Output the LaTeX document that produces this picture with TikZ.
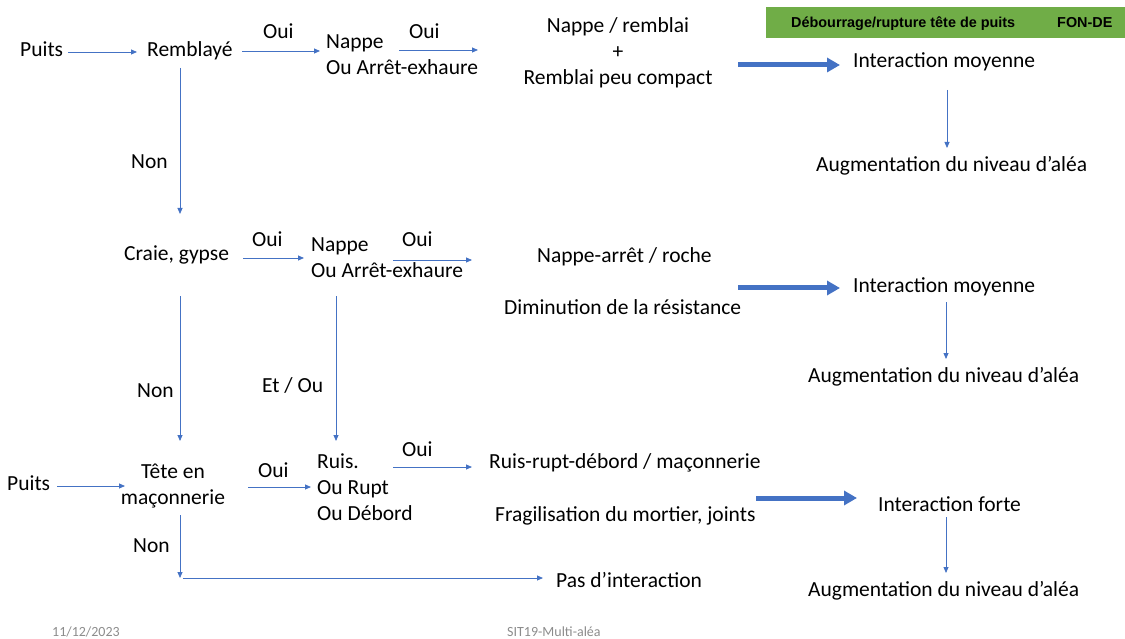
\documentclass[tikz,border=0pt]{standalone}
\usepackage{fontspec}
\setmainfont{Carlito}
\newfontfamily\barfont{Liberation Sans}
\usetikzlibrary{arrows.meta}
\definecolor{linkblue}{HTML}{4472C4}
\definecolor{bargreen}{HTML}{70AD47}
\definecolor{footgray}{HTML}{8C8C8C}
\begin{document}
\begin{tikzpicture}[x=1pt,y=-1pt,
  lbl/.style={inner sep=0pt, anchor=base west, font=\fontsize{21.5}{26}\selectfont},
  lblc/.style={lbl, anchor=base, align=center},
  lbll/.style={lbl, align=left},
  bartext/.style={inner sep=0pt, anchor=base west, font=\barfont\bfseries\fontsize{14.4}{16}\selectfont},
  foot/.style={inner sep=0pt, anchor=base west, text=footgray, font=\fontsize{14}{16}\selectfont},
  thinarrow/.style={draw=linkblue, line width=0.8pt, -{Triangle[length=6pt,width=5pt]}},
  boldarrow/.style={draw=linkblue, line width=5pt, -{Triangle[length=13pt,width=14pt]}},
]
\useasboundingbox (0,0) rectangle (1125,639);

% header bar
\fill[bargreen] (766,7) rectangle (1125,38);
\node[bartext] (bartitle) at (791,27.5) {Débourrage/rupture tête de puits};
\node[bartext] (barcode) at (1057,27.5) {FON-DE};

% first branch: filled shaft (multi-line nodes sit on their last baseline)
\node[lbl] (puitsA) at (20,57) {Puits};
\node[lbl] (remblaye) at (147,57) {Remblayé};
\node[lbl] (ouiA) at (263,39) {Oui};
\node[lbll] (nappeA) at (326,75) {Nappe\\Ou Arrêt-exhaure};
\node[lbl] (ouiB) at (409,39) {Oui};
\node[lblc] (resA) at (618,85) {Nappe / remblai\\+\\Remblai peu compact};
\node[lbl] (interA) at (853,68) {Interaction moyenne};
\node[lbl] (augA) at (816,172) {Augmentation du niveau d’aléa};
\node[lbl] (nonA) at (131,169) {Non};

% second branch: chalk, gypsum
\node[lbl] (craie) at (124,261) {Craie, gypse};
\node[lbl] (ouiC) at (252,247) {Oui};
\node[lbll] (nappeB) at (311,277) {Nappe\\Ou Arrêt-exhaure};
\node[lbl] (ouiD) at (402,247) {Oui};
\node[lbl] (resB1) at (537,262) {Nappe-arrêt / roche};
\node[lbl] (resB2) at (504,315) {Diminution de la résistance};
\node[lbl] (interB) at (853,292) {Interaction moyenne};
\node[lbl] (augB) at (808,382) {Augmentation du niveau d’aléa};
\node[lbl] (nonB) at (137,397) {Non};
\node[lbl] (etou) at (262,392) {Et / Ou};

% third branch: masonry head
\node[lbl] (puitsB) at (7,490) {Puits};
\node[lblc] (tete) at (173,504) {Tête en\\maçonnerie};
\node[lbl] (ouiE) at (258,477) {Oui};
\node[lbll] (ruis) at (317,520) {Ruis.\\Ou Rupt\\Ou Débord};
\node[lbl] (ouiF) at (402,456) {Oui};
\node[lbl] (resC1) at (489,468) {Ruis-rupt-débord / maçonnerie};
\node[lbl] (resC2) at (495,521) {Fragilisation du mortier, joints};
\node[lbl] (interC) at (878,511) {Interaction forte};
\node[lbl] (augC) at (808,596) {Augmentation du niveau d’aléa};
\node[lbl] (nonC) at (133,552) {Non};
\node[lbl] (pasint) at (556,587) {Pas d’interaction};

% footer
\node[foot] (date) at (52,636) {11/12/2023};
\node[foot] (ref) at (507,636) {SIT19-Multi-aléa};

% connector ends
\coordinate (a1) at (68,52);   \coordinate (a2) at (137,52);
\coordinate (b1) at (242,51);  \coordinate (b2) at (320,51);
\coordinate (c1) at (399,50);  \coordinate (c2) at (478,50);
\coordinate (d1) at (738,65);  \coordinate (d2) at (840,65);
\coordinate (e1) at (947,90);  \coordinate (e2) at (947,148);
\coordinate (f1) at (180,68);  \coordinate (f2) at (180,214);
\coordinate (g1) at (243,258); \coordinate (g2) at (304,258);
\coordinate (h1) at (393,260); \coordinate (h2) at (472,260);
\coordinate (i1) at (738,288); \coordinate (i2) at (840,288);
\coordinate (j1) at (946,302); \coordinate (j2) at (946,359);
\coordinate (k1) at (180,296); \coordinate (k2) at (180,441);
\coordinate (l1) at (336,296); \coordinate (l2) at (336,441);
\coordinate (m1) at (57,486);  \coordinate (m2) at (125,486);
\coordinate (n1) at (248,487); \coordinate (n2) at (311,487);
\coordinate (o1) at (393,467); \coordinate (o2) at (472,467);
\coordinate (p1) at (756,498); \coordinate (p2) at (857,498);
\coordinate (q1) at (946,517); \coordinate (q2) at (946,573);
\coordinate (r1) at (180,515); \coordinate (r2) at (180,578);
\coordinate (s1) at (183,578); \coordinate (s2) at (543,578);

\draw[thinarrow] (a1) -- (a2);
\draw[thinarrow] (b1) -- (b2);
\draw[thinarrow] (c1) -- (c2);
\draw[boldarrow] (d1) -- (d2);
\draw[thinarrow] (e1) -- (e2);
\draw[thinarrow] (f1) -- (f2);
\draw[thinarrow] (g1) -- (g2);
\draw[thinarrow] (h1) -- (h2);
\draw[boldarrow] (i1) -- (i2);
\draw[thinarrow] (j1) -- (j2);
\draw[thinarrow] (k1) -- (k2);
\draw[thinarrow] (l1) -- (l2);
\draw[thinarrow] (m1) -- (m2);
\draw[thinarrow] (n1) -- (n2);
\draw[thinarrow] (o1) -- (o2);
\draw[boldarrow] (p1) -- (p2);
\draw[thinarrow] (q1) -- (q2);
\draw[thinarrow] (r1) -- (r2);
\draw[thinarrow] (s1) -- (s2);
\end{tikzpicture}
\end{document}
